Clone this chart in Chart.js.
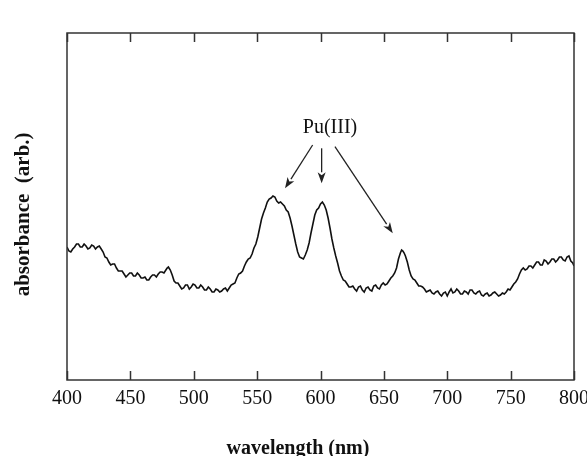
<!DOCTYPE html>
<html><head><meta charset="utf-8">
<script src="https://cdn.jsdelivr.net/npm/chart.js@4/dist/chart.umd.min.js"></script>
<style>html,body{margin:0;padding:0;background:#fff}#wrap{width:587px;height:456px}</style>
</head><body><div id="wrap"><canvas id="c" width="587" height="456"></canvas></div>
<script>
// Wavelength (nm)
const wavelengths = [400,401.5,403,404.5,406,407.5,409,410.5,412,413.5,415,416.5,418,419.5,421,422.5,424,425.5,427,428.5,430,431.5,433,434.5,436,437.5,439,440.5,442,443.5,445,446.5,448,449.5,451,452.5,454,455.5,457,458.5,460,461.5,463,464.5,466,467.5,469,470.5,472,473.5,475,476.5,478,479,480,481.5,483,484.5,486,487.5,489,490.5,492,493.5,495,496.5,498,499.5,501,502.5,504,505.5,507,508.5,510,511.5,513,514.5,516,517.5,519,520.5,522,523.5,525,526.5,528,529.5,531,532.5,534,535.5,537,538.5,540,541.5,543,544.5,546,547.5,549,550.5,552,553.5,555,556.5,558,559.5,561,562.5,564,565.5,567,568.5,570,571.5,573,574.5,576,577.5,579,580.5,582,583.5,585,586.5,588,589.5,591,592.5,594,595.5,597,598.5,600,601.5,603,604.5,606,607.5,609,610.5,612,613.5,615,616.5,618,619.5,621,622.5,624,625.5,627,628.5,630,631.5,633,634.5,636,637.5,639,640.5,642,643.5,645,646.5,648,649.5,651,652.5,654,655.5,657,658.5,660,661.5,663,664,665,666,667,668.5,670,671.5,673,674.5,676,677.5,679,680.5,682,683.5,685,686.5,688,689.5,691,692.5,694,695.5,697,698.5,700,701.5,703,704.5,706,707.5,709,710.5,712,713.5,715,716.5,718,719.5,721,722.5,724,725.5,727,728.5,730,731.5,733,734.5,736,737.5,739,740.5,742,743.5,745,746.5,748,749.5,751,752.5,754,755.5,757,758.5,760,761.5,763,764.5,766,767.5,769,770.5,772,773.5,775,776.5,778,779.5,781,782.5,784,785.5,787,788.5,790,791.5,793,794.5,796,797.5,799,800];
// Absorbance (arbitrary units)
const absorbance = [133,129,128,131,133,136,136,133,133,136,134,131,132,135,134,131,133,134,131,128,123,122,118,115,116,116,112,109,109,109,106,103,105,107,107,104,104,107,105,102,102,103,100,100,103,105,105,103,106,108,108,107,110,112,113,110,105,99,97,97,94,91,92,95,95,91,93,96,95,92,92,95,93,90,90,93,91,88,88,91,90,88,89,91,92,89,92,95,96,97,102,106,107,109,114,118,121,122,126,132,136,143,152,161,167,172,178,181,182,184,183,179,177,178,176,174,170,168,162,154,145,136,128,123,122,121,125,130,137,147,156,165,170,172,176,178,175,170,162,152,141,132,124,117,109,104,100,99,96,93,93,94,91,89,93,94,90,88,92,93,90,89,94,95,92,91,95,97,95,96,99,102,104,107,112,121,127,130,129,127,124,118,110,104,101,100,97,94,94,93,91,88,89,90,87,86,88,89,86,84,87,88,84,88,91,87,88,91,89,86,86,89,88,86,90,90,87,86,88,89,85,84,86,87,84,85,87,88,86,84,85,87,86,88,91,90,93,96,98,101,106,110,112,110,111,114,114,112,115,118,118,115,115,120,119,116,118,121,121,118,120,123,123,120,119,123,124,119,117,114];
const xTickValues = [400,450,500,550,600,650,700,750,800];
const xTitle = 'wavelength (nm)\u2003\u2003 ';
const yTitle = 'absorbance  (arb.)\u2002 ';
const peakLabel = 'Pu(III)';
// annotation in data units: label anchor and arrows [fromX, fromY, toX, toY]
const labelAt = [607.5, 247];
const arrows = [[593.8,235,572,191.7],[600.9,231.7,600.9,196.7],[611.4,233.3,657,146.7]];

const framePlugin = {
  id: 'frame',
  afterDraw(chart) {
    const {ctx, chartArea: {left, right, top, bottom}, scales: {x, y}} = chart;
    ctx.save();
    ctx.strokeStyle = '#333';
    ctx.lineWidth = 1.5;
    ctx.strokeRect(left, top, right - left, bottom - top);
    ctx.beginPath();
    for (const v of xTickValues) {
      const px = Math.round(x.getPixelForValue(v)) + 0.5;
      ctx.moveTo(px, bottom); ctx.lineTo(px, bottom - 9);
      ctx.moveTo(px, top); ctx.lineTo(px, top + 9);
    }
    ctx.stroke();
    ctx.fillStyle = '#111';
    ctx.font = '20px "Liberation Serif"';
    ctx.textAlign = 'center';
    ctx.textBaseline = 'alphabetic';
    ctx.fillText(peakLabel, x.getPixelForValue(labelAt[0]), y.getPixelForValue(labelAt[1]));
    ctx.strokeStyle = '#222';
    ctx.fillStyle = '#222';
    ctx.lineWidth = 1.3;
    for (const a of arrows) {
      const x1 = x.getPixelForValue(a[0]), y1 = y.getPixelForValue(a[1]);
      const x2 = x.getPixelForValue(a[2]), y2 = y.getPixelForValue(a[3]);
      const ang = Math.atan2(y2 - y1, x2 - x1);
      const L = 11, W = 4;
      const bx = x2 - L * Math.cos(ang), by = y2 - L * Math.sin(ang);
      ctx.beginPath(); ctx.moveTo(x1, y1); ctx.lineTo(bx, by); ctx.stroke();
      ctx.beginPath();
      ctx.moveTo(x2, y2);
      ctx.lineTo(bx + W * Math.sin(ang), by - W * Math.cos(ang));
      ctx.lineTo(bx + 3 * Math.cos(ang), by + 3 * Math.sin(ang));
      ctx.lineTo(bx - W * Math.sin(ang), by + W * Math.cos(ang));
      ctx.closePath(); ctx.fill();
    }
    ctx.restore();
  }
};

new Chart(document.getElementById('c'), {
  type: 'line',
  data: {
    datasets: [{
      data: wavelengths.map((w, i) => ({x: w, y: absorbance[i]})),
      borderColor: '#111',
      borderWidth: 1.6,
      pointRadius: 0,
      tension: 0,
      fill: false
    }]
  },
  options: {
    responsive: false,
    devicePixelRatio: 1,
    animation: false,
    events: [],
    layout: {padding: {left: 0, right: 13, top: 33, bottom: 0}},
    plugins: {legend: {display: false}, tooltip: {enabled: false}},
    scales: {
      x: {
        type: 'linear', min: 400, max: 800,
        afterBuildTicks(s) { s.ticks = xTickValues.map(v => ({value: v})); },
        afterFit(s) { s.height = 76; s.paddingLeft = 0; s.paddingRight = 0; },
        grid: {display: false, drawTicks: false},
        border: {display: false},
        ticks: {color: '#111', font: {family: 'Liberation Serif', size: 20, lineHeight: 1}, padding: 9, maxRotation: 0, autoSkip: false},
        title: {display: true, text: xTitle, color: '#111', font: {family: 'Liberation Serif', size: 20, weight: 'bold', lineHeight: 1}, padding: {top: 0, bottom: -3}}
      },
      y: {
        min: 0, max: 347,
        afterFit(s) { s.width = 67; },
        grid: {display: false, drawTicks: false},
        border: {display: false},
        ticks: {display: false},
        title: {display: true, text: yTitle, color: '#111', font: {family: 'Liberation Serif', size: 21, weight: 'bold', lineHeight: 1}, padding: {top: 13, bottom: 0}}
      }
    }
  },
  plugins: [framePlugin]
});
</script>
</body></html>
